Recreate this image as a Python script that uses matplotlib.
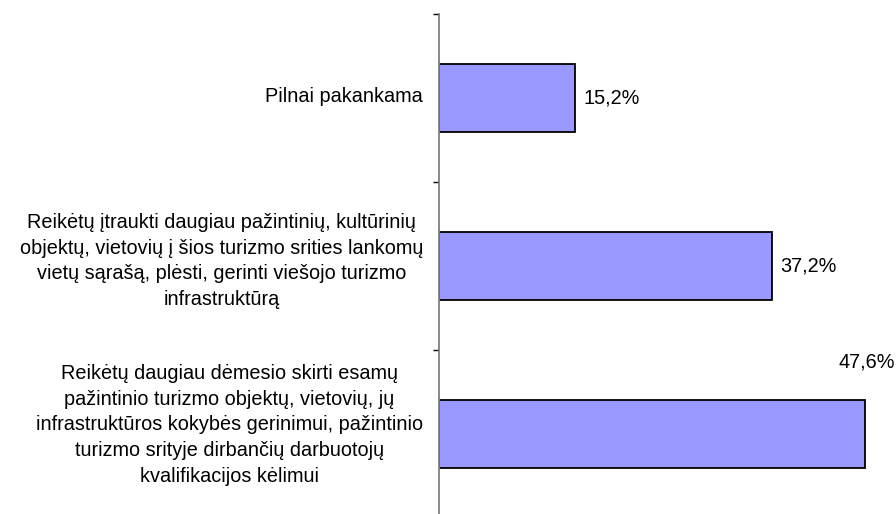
import matplotlib.pyplot as plt
import matplotlib.transforms as mtransforms

categories = [
    "Pilnai pakankama",
    "Reikėtų įtraukti daugiau pažintinių, kultūrinių\n"
    "objektų, vietovių į šios turizmo srities lankomų\n"
    "vietų sąrašą, plėsti, gerinti viešojo turizmo\n"
    "infrastruktūrą",
    "Reikėtų daugiau dėmesio skirti esamų\n"
    "pažintinio turizmo objektų, vietovių, jų\n"
    "infrastruktūros kokybės gerinimui, pažintinio\n"
    "turizmo srityje dirbančių darbuotojų\n"
    "kvalifikacijos kėlimui",
]
values = [15.2, 37.2, 47.6]
value_labels = ["15,2%", "37,2%", "47,6%"]

plt.rcParams['font.family'] = ['Liberation Sans', 'DejaVu Sans']

W, H = 896, 514
fig = plt.figure(figsize=(W / 100, H / 100), dpi=100)
# axis line at x=439 px, plot runs to the right edge
ax = fig.add_axes([439 / W, 0, 1 - 439 / W, 1])

pos = list(range(len(values)))
ax.barh(pos, values, height=0.4, color='#9999FF', edgecolor='black', linewidth=1.3)

px_per_unit = 8.95
ax.set_xlim(0, (W - 439) / px_per_unit)
# top of category axis at y=14 px, 168 px per category
ax.set_ylim(-0.5 + (H - 14) / 168, -0.5 - 14 / 168)

for s in ['top', 'right', 'bottom']:
    ax.spines[s].set_visible(False)
ax.spines['left'].set_color('#808080')
ax.spines['left'].set_linewidth(1.3)
ax.spines['left'].set_bounds(-0.5, 3)
ax.set_xticks([])
ax.set_yticks([p - 0.5 for p in pos])
ax.set_yticklabels([])
ax.tick_params(axis='y', direction='out', length=4, width=1, color='black')

# category labels, block right-aligned left of the axis, lines centred
trans = mtransforms.blended_transform_factory(fig.transFigure, ax.transData)
offsets = [-0.01, -0.03, -0.055]
for p, cat, off in zip(pos, categories, offsets):
    ax.text(423 / W, p + off, cat, transform=trans, ha='right', va='center',
            multialignment='center', fontsize=14.3, linespacing=1.45, clip_on=False)

for p, v, lab in zip(pos, values, value_labels):
    if p == len(values) - 1:
        ax.annotate(lab, (v, p), xytext=(1, 52), textcoords='offset points',
                    ha='center', va='center', fontsize=14.3, annotation_clip=False)
    else:
        ax.annotate(lab, (v, p), xytext=(6, 0), textcoords='offset points',
                    ha='left', va='center', fontsize=14.3)

fig.savefig('out.png', dpi=100)
